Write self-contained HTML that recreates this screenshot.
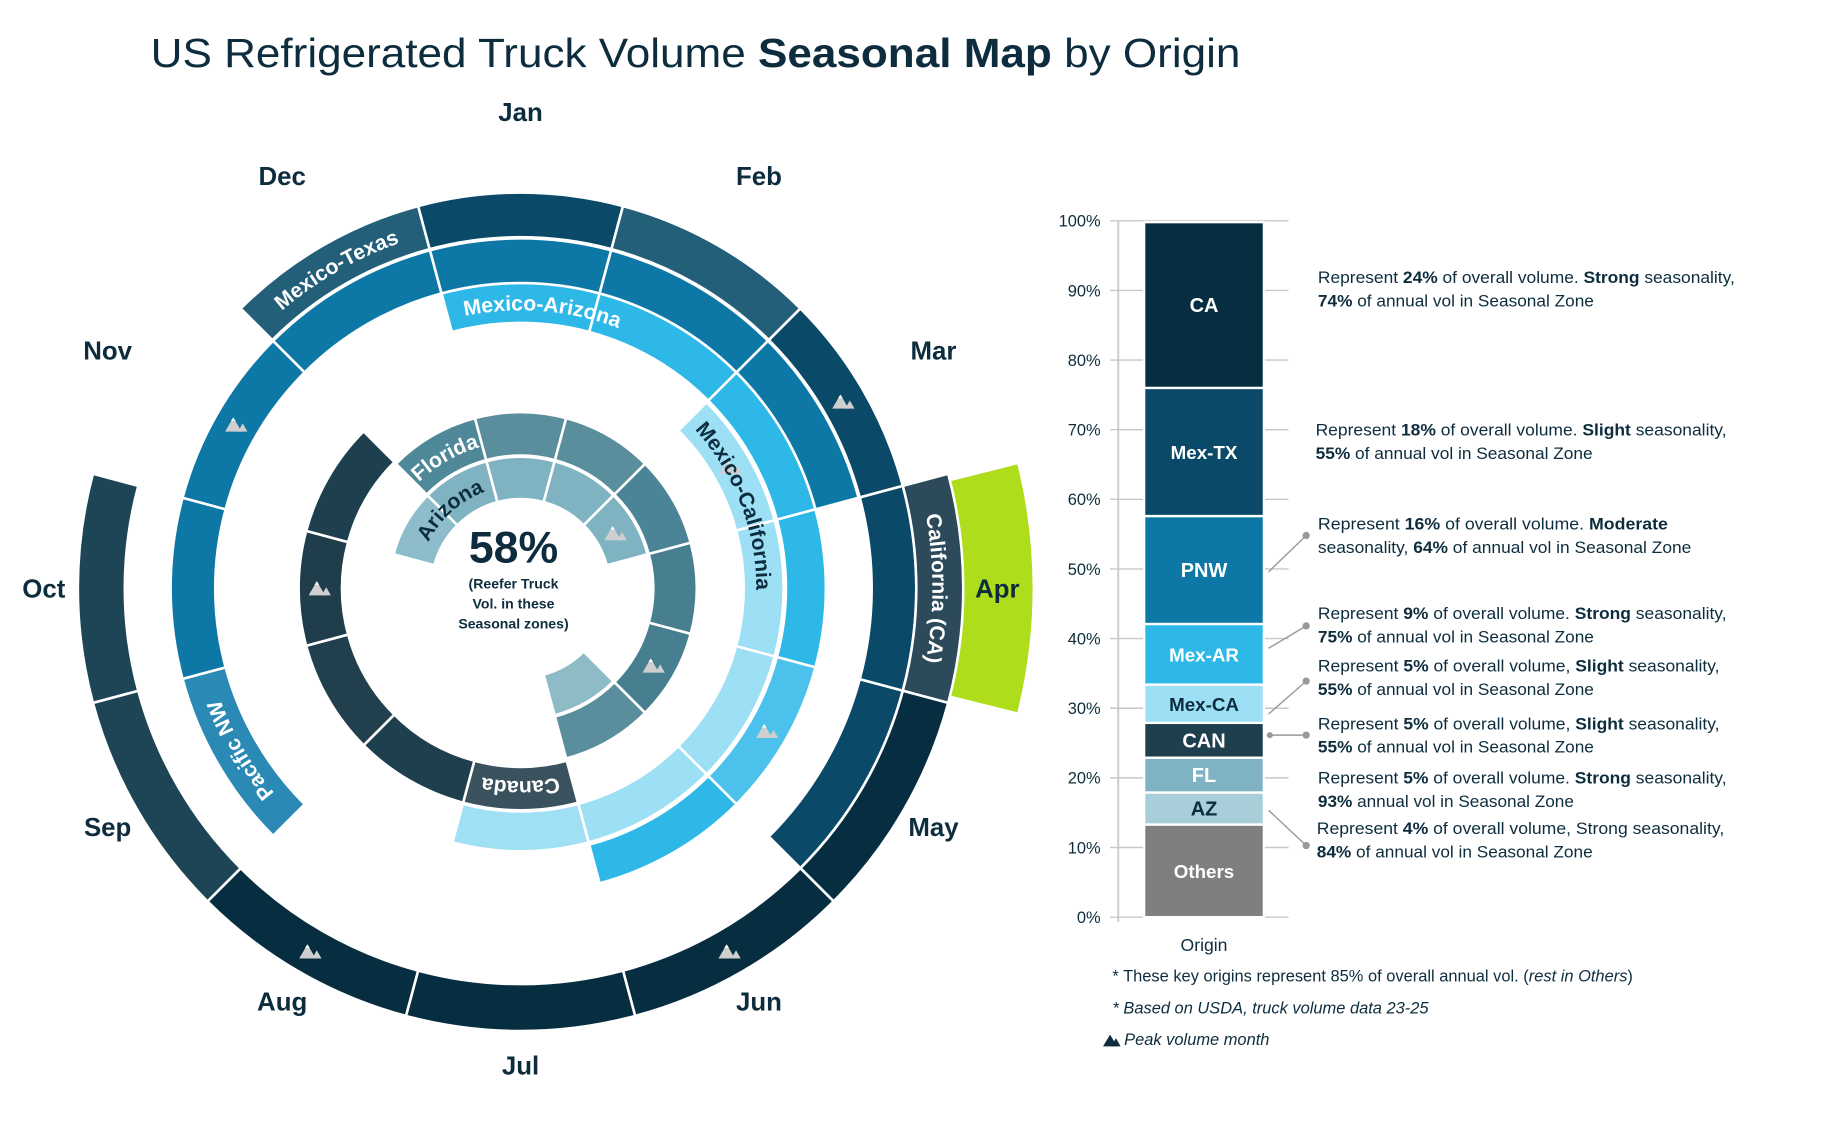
<!DOCTYPE html>
<html><head><meta charset="utf-8">
<style>
html,body{margin:0;padding:0;background:#fff;}
svg{display:block;font-family:"Liberation Sans",sans-serif;}
</style></head>
<body>
<svg id="chart" width="1842" height="1125" viewBox="0 0 1568 958" xmlns="http://www.w3.org/2000/svg">
  <text x="128" y="57" font-size="35" fill="#0d2d3e" textLength="928" lengthAdjust="spacingAndGlyphs">US Refrigerated Truck Volume <tspan font-weight="bold">Seasonal Map</tspan> by Origin</text>
  <g id="radial"></g>
  <g id="bars"></g>
  <g fill="#0d2d3e" font-weight="bold" text-anchor="middle">
    <text x="437" y="479" font-size="38">58%</text>
    <text x="437" y="501" font-size="12">(Reefer Truck</text>
    <text x="437" y="518" font-size="12">Vol. in these</text>
    <text x="437" y="535" font-size="12">Seasonal zones)</text>
  </g>
  <g font-size="14" fill="#0d2d3e">
    <text x="947" y="836">* These key origins represent 85% of overall annual vol. (<tspan font-style="italic">rest in Others</tspan>)</text>
    <text x="947" y="863" font-style="italic">* Based on USDA, truck volume data 23-25</text>
    <g><polygon points="939,891 945,881 951,891" fill="#0d2d3e"/><polygon points="946,891 950,884 954,891" fill="#0d2d3e"/></g>
    <text x="957" y="890" font-style="italic">Peak volume month</text>
  </g>
</svg>
<script>
// ---------- radial data ----------
const months = ['Jan','Feb','Mar','Apr','May','Jun','Jul','Aug','Sep','Oct','Nov','Dec'];
const ringNames = ['Arizona','Florida','Canada','Mexico-California','Mexico-Arizona','Pacific NW','Mexico-Texas','California (CA)'];
const ringMonths = [
  [10,11,0,1,2,5],
  [11,0,1,2,3,4,5],
  [6,7,8,9,10],
  [2,3,4,5,6],
  [0,1,2,3,4,5],
  [8,9,10,11,0,1,2],
  [11,0,1,2,3,4],
  [3,4,5,6,7,8,9]
];
const ringPeaks = [[2],[4],[9],[2],[4],[10],[2],[5,7]];
const ringLabelMonth = [10.6,11,6,2.3,0.15,8,11,3];
const highlightMonth = 3;

// styles (not data)
const ringInner = [76,113,152,190,226,260,299,337];
const ringOuter = [112,150,189,224,260,298,337,377];
const ringColors = [
  ['#8dbdca','#7fb3c1','#7fb3c1','#7fb3c1','#7fb3c1','#8dbcc7'],
  ['#4f8899','#5a8e9c','#5a8e9c','#4a8496','#477f90','#477f90','#5a8e9c'],
  ['#3a525d','#1e3f4e','#213f4d','#1f3d4b','#1d3f4e'],
  ['#9ddff5','#9ddff5','#9ddff5','#9ddff5','#a0e0f5'],
  ['#2eb8e8','#2eb8e8','#2eb8e8','#2eb8e8','#4cc1eb','#2eb8e8'],
  ['#2a8ab5','#0d78a5','#0d78a5','#0d78a5','#0d78a5','#0d78a5','#0d78a5'],
  ['#235f78','#0a4a68','#235f78','#0a4a68','#0a4a68','#0a4a68'],
  ['#2c4a5a','#062e40','#062e40','#062e40','#062e40','#1d4556','#1d4556']
];
const labelColors = ['#0d2d3e','#fff','#fff','#0d2d3e','#fff','#fff','#fff','#fff'];
const cx = 443, cy = 501;
const NS = 'http://www.w3.org/2000/svg';
const radial = document.getElementById('radial');

function monthAngle(m){ return m*30; } // center angle, Jan at top
function pt(r,a){ const t=a*Math.PI/180; return [cx+r*Math.sin(t), cy-r*Math.cos(t)]; }
function arcPath(r0,r1,a0,a1){
  const p0=pt(r1,a0),p1=pt(r1,a1),p2=pt(r0,a1),p3=pt(r0,a0);
  const lg=(a1-a0)>180?1:0;
  return `M${p0[0]},${p0[1]}A${r1},${r1} 0 ${lg} 1 ${p1[0]},${p1[1]}L${p2[0]},${p2[1]}A${r0},${r0} 0 ${lg} 0 ${p3[0]},${p3[1]}Z`;
}
function mk(tag,attrs,parent){ const e=document.createElementNS(NS,tag); for(const k in attrs) e.setAttribute(k,attrs[k]); (parent||radial).appendChild(e); return e; }

// highlight current month
{
  const a=monthAngle(highlightMonth);
  const hl=mk('path',{d:arcPath(370,436,a-14,a+14),fill:'#aedd1c'});
  
  
}

ringNames.forEach((name,ri)=>{
  const g=mk('g',{});
  
  
  ringMonths[ri].forEach((m,si)=>{
    const a=monthAngle(m);
    const seg=mk('path',{d:arcPath(ringInner[ri],ringOuter[ri],a-15,a+15),fill:ringColors[ri][si],stroke:'#fff','stroke-width':2.2},g);
    
    
  });
  ringPeaks[ri].forEach(m=>{
    const rm=(ringInner[ri]+ringOuter[ri])/2;
    const p=pt(rm,monthAngle(m));
    const ic=mk('g',{transform:`translate(${p[0]},${p[1]})`},g);
    
    
    mk('polygon',{points:'-10,6 -3,-6 4,6',fill:'#cfcfcf'},ic);
    mk('polygon',{points:'1,6 5,-1 9,6',fill:'#cfcfcf'},ic);
    mk('polygon',{points:'-5,-3 -3,-6 -1,-3',fill:'#fff'},ic);
  });
  // curved label
  const fs=18;
  const rm=(ringInner[ri]+ringOuter[ri])/2 - fs*0.35;
  const la=ringLabelMonth[ri]*30;
  const p0=pt(rm,la-90), p1=pt(rm,la+90);
  const pid='lp'+ri;
  mk('path',{id:pid,d:`M${p0[0]},${p0[1]}A${rm},${rm} 0 0 1 ${p1[0]},${p1[1]}`,fill:'none'},g);
  const t=mk('text',{'font-size':fs,fill:labelColors[ri],'text-anchor':'middle','font-weight':'bold'},g);
  
  
  const tp=mk('textPath',{href:'#'+pid,startOffset:'50%'},t);
  tp.textContent=name;
});

// month labels
months.forEach((m,i)=>{
  const p=pt(406,monthAngle(i));
  const t=mk('text',{x:p[0],y:p[1]+8,'font-size':22,'font-weight':'bold',fill:'#0d2d3e','text-anchor':'middle'});
  
  
  t.textContent=m;
});

// ---------- bar chart data ----------
const barCategories = ['Others','AZ','FL','CAN','Mex-CA','Mex-AR','PNW','Mex-TX','CA'];
const barValues = [13.3,4.6,5.0,5.0,5.5,8.7,15.5,18.4,23.8];
const tickValues = [0,10,20,30,40,50,60,70,80,90,100];
const tickLabels = ['0%','10%','20%','30%','40%','50%','60%','70%','80%','90%','100%'];
const annotationTop = ['Represent ','24%',' of overall volume. ','Strong',' seasonality,'];
const barColors = ['#7f7f82','#a8cfd9','#7fb3c3','#1e3f4e','#9ddff5','#2eb8e8','#0d78a5','#0a4a68','#062e40'];
const barTextColors = ['#fff','#0d2d3e','#fff','#fff','#0d2d3e','#fff','#fff','#fff','#fff'];
const bars=document.getElementById('bars');
const y0=781, y1=188;
function yScale(v){ return y0-(v/100)*(y0-y1); }
function bk(tag,attrs,parent){ const e=document.createElementNS(NS,tag); for(const k in attrs) e.setAttribute(k,attrs[k]); (parent||bars).appendChild(e); return e; }

tickValues.forEach((v,i)=>{
  const y=yScale(v);
  const gl=bk('line',{x1:945,x2:1097,y1:y,y2:y,stroke:'#c8c8c8','stroke-width':1.2});
  
  
  const tl=bk('text',{x:937,y:y+5,'font-size':14,fill:'#0d2d3e','text-anchor':'end'});
  
  
  tl.textContent=tickLabels[i];
});
{
  const ax=bk('line',{x1:952,x2:952,y1:y1,y2:y0+4,stroke:'#c8c8c8','stroke-width':1.5});
  
  
}
let cum=0;
barCategories.forEach((c,i)=>{
  const top=yScale(cum+barValues[i]), bot=yScale(cum);
  const r=bk('rect',{x:974,y:top,width:102,height:bot-top,fill:barColors[i],stroke:'#fff','stroke-width':2});
  
  
  const t=bk('text',{x:1025,y:(top+bot)/2+6,'font-size':c.length>3?16:17,'font-weight':'bold',fill:barTextColors[i],'text-anchor':'middle'});
  
  
  t.textContent=c;
  cum+=barValues[i];
});
{
  const o=bk('text',{x:1025,y:810,'font-size':15,fill:'#0d2d3e','text-anchor':'middle'});
  
  
  o.textContent='Origin';
}
</script>
<svg style="position:absolute;left:0;top:0" width="1842" height="1125" viewBox="0 0 1568 958">
  <g font-family="Liberation Sans, sans-serif" font-size="14" fill="#0d2d3e" stroke="none">
    <g>
      <text x="1122" y="241" textLength="355" lengthAdjust="spacingAndGlyphs">Represent <tspan font-weight="bold">24%</tspan> of overall volume. <tspan font-weight="bold">Strong</tspan> seasonality,</text>
      <text x="1122" y="261" textLength="235" lengthAdjust="spacingAndGlyphs"><tspan font-weight="bold">74%</tspan> of annual vol in Seasonal Zone</text>
    </g>
    <g>
      <text x="1120" y="371" textLength="350" lengthAdjust="spacingAndGlyphs">Represent <tspan font-weight="bold">18%</tspan> of overall volume. <tspan font-weight="bold">Slight</tspan> seasonality,</text>
      <text x="1120" y="391" textLength="236" lengthAdjust="spacingAndGlyphs"><tspan font-weight="bold">55%</tspan> of annual vol in Seasonal Zone</text>
    </g>
    <g>
      <text x="1122" y="451" textLength="298" lengthAdjust="spacingAndGlyphs">Represent <tspan font-weight="bold">16%</tspan> of overall volume. <tspan font-weight="bold">Moderate</tspan></text>
      <text x="1122" y="471" textLength="318" lengthAdjust="spacingAndGlyphs">seasonality, <tspan font-weight="bold">64%</tspan> of annual vol in Seasonal Zone</text>
    </g>
    <g>
      <text x="1122" y="527" textLength="348" lengthAdjust="spacingAndGlyphs">Represent <tspan font-weight="bold">9%</tspan> of overall volume. <tspan font-weight="bold">Strong</tspan> seasonality,</text>
      <text x="1122" y="547" textLength="235" lengthAdjust="spacingAndGlyphs"><tspan font-weight="bold">75%</tspan> of annual vol in Seasonal Zone</text>
    </g>
    <g>
      <text x="1122" y="572" textLength="342" lengthAdjust="spacingAndGlyphs">Represent <tspan font-weight="bold">5%</tspan> of overall volume, <tspan font-weight="bold">Slight</tspan> seasonality,</text>
      <text x="1122" y="592" textLength="235" lengthAdjust="spacingAndGlyphs"><tspan font-weight="bold">55%</tspan> of annual vol in Seasonal Zone</text>
    </g>
    <g>
      <text x="1122" y="621" textLength="342" lengthAdjust="spacingAndGlyphs">Represent <tspan font-weight="bold">5%</tspan> of overall volume, <tspan font-weight="bold">Slight</tspan> seasonality,</text>
      <text x="1122" y="641" textLength="235" lengthAdjust="spacingAndGlyphs"><tspan font-weight="bold">55%</tspan> of annual vol in Seasonal Zone</text>
    </g>
    <g>
      <text x="1122" y="667" textLength="348" lengthAdjust="spacingAndGlyphs">Represent <tspan font-weight="bold">5%</tspan> of overall volume. <tspan font-weight="bold">Strong</tspan> seasonality,</text>
      <text x="1122" y="687" textLength="218" lengthAdjust="spacingAndGlyphs"><tspan font-weight="bold">93%</tspan> annual vol in Seasonal Zone</text>
    </g>
    <g>
      <text x="1121" y="710" textLength="347" lengthAdjust="spacingAndGlyphs">Represent <tspan font-weight="bold">4%</tspan> of overall volume, Strong seasonality,</text>
      <text x="1121" y="730" textLength="235" lengthAdjust="spacingAndGlyphs"><tspan font-weight="bold">84%</tspan> of annual vol in Seasonal Zone</text>
    </g>
  </g>
  <g stroke="#999" stroke-width="1.2" fill="#999">
    <line x1="1080" y1="487" x2="1112" y2="456"/><circle cx="1112" cy="456" r="2.5"/>
    <line x1="1080" y1="552" x2="1112" y2="533"/><circle cx="1112" cy="533" r="2.5"/>
    <line x1="1080" y1="608" x2="1112" y2="580"/><circle cx="1112" cy="580" r="2.5"/>
    <line x1="1080" y1="626" x2="1112" y2="626"/><circle cx="1112" cy="626" r="2.5"/><circle cx="1081" cy="626" r="2"/>
    <line x1="1080" y1="690" x2="1112" y2="720"/><circle cx="1112" cy="720" r="2.5"/>
  </g>
</svg>
</body></html>
